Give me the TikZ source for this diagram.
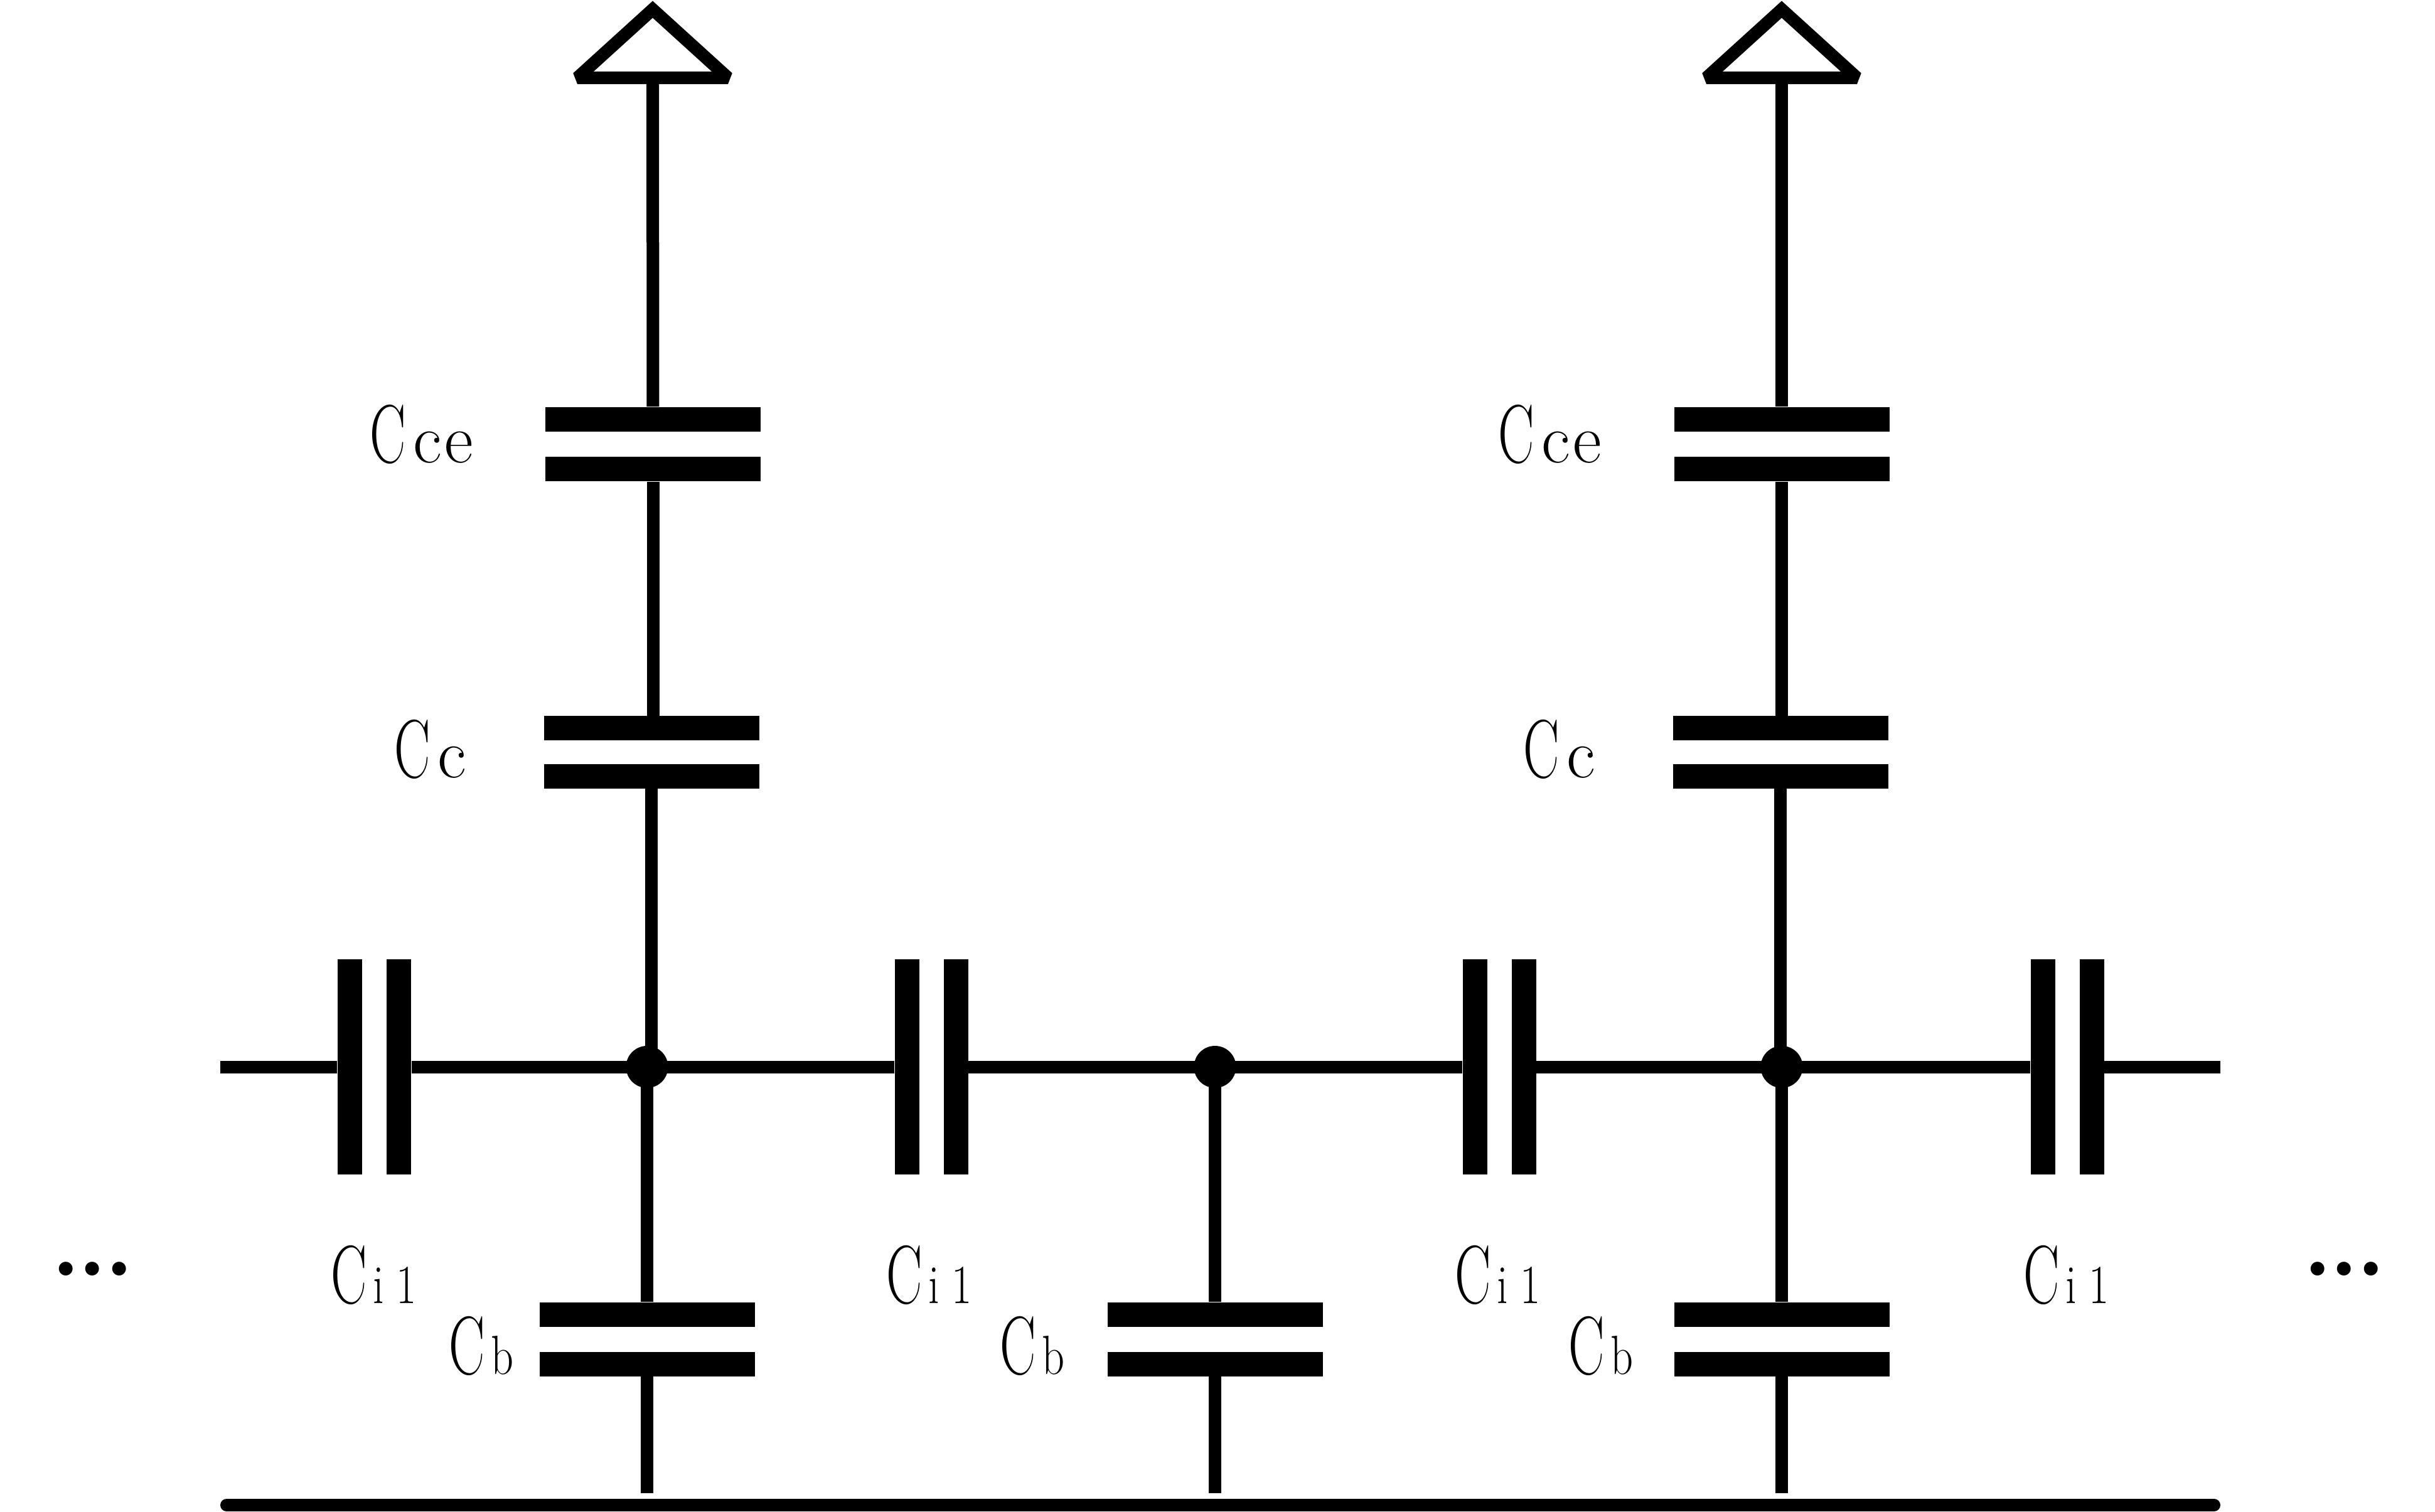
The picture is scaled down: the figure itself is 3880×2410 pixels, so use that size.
\documentclass[tikz,border=0pt]{standalone}
\usepackage{graphicx}
\usepackage{tikz}
\tikzset{
plateh/.style={fill=black,inner sep=0pt,minimum width=85.75pt,minimum height=9.75pt},
platev/.style={fill=black,inner sep=0pt,minimum width=9.75pt,minimum height=85.75pt},
junc/.style={circle,fill=black,inner sep=0pt,minimum size=16.75pt},
wire/.style={line width=5pt},
gnd/.style={line width=5pt,miter limit=2,fill=white},
capl/.style={anchor=base west,inner sep=0pt,outer sep=0pt}
}
\newcommand{\capC}{\scalebox{.65}[1]{\fontsize{33}{33}\selectfont C}}
\newcommand{\capbig}[1]{\capC\hspace{3pt}{\fontsize{28}{28}\selectfont #1}}
\newcommand{\capsmall}[1]{\capC\hspace{2.5pt}\scalebox{.8}[1]{\fontsize{22}{22}\selectfont #1}}
\begin{document}
\begin{tikzpicture}[x=0.25pt,y=-0.25pt]
\useasboundingbox (0,0) rectangle (3880,2410);
\draw[gnd] (1040,15) coordinate (gnd1t) -- (1160,124) coordinate (gnd1r) -- (920,124) coordinate (gnd1l) -- cycle;
\draw[gnd] (2839,15) coordinate (gnd2t) -- (2959,124) coordinate (gnd2r) -- (2719,124) coordinate (gnd2l) -- cycle;
\coordinate (gnd1b) at (1040,124);
\coordinate (gnd2b) at (2839,124);
\node[plateh] (cce1a) at (1040.5,668.5) {};
\node[plateh] (cce1b) at (1040.5,747.5) {};
\node[plateh] (cc1a) at (1038,1160) {};
\node[plateh] (cc1b) at (1038,1237) {};
\node[plateh] (cce2a) at (2839,668.5) {};
\node[plateh] (cce2b) at (2839,747.5) {};
\node[plateh] (cc2a) at (2837,1160) {};
\node[plateh] (cc2b) at (2837,1237) {};
\node[plateh] (cb1a) at (1031,2095.5) {};
\node[plateh] (cb1b) at (1031,2174) {};
\node[plateh] (cb2a) at (1936,2095.5) {};
\node[plateh] (cb2b) at (1936,2174) {};
\node[plateh] (cb3a) at (2839,2095.5) {};
\node[plateh] (cb3b) at (2839,2174) {};
\node[platev] (ci1a) at (557.5,1700.5) {};
\node[platev] (ci1b) at (635.5,1700.5) {};
\node[platev] (ci2a) at (1445,1700.5) {};
\node[platev] (ci2b) at (1523,1700.5) {};
\node[platev] (ci3a) at (2350,1700.5) {};
\node[platev] (ci3b) at (2428,1700.5) {};
\node[platev] (ci4a) at (3255,1700.5) {};
\node[platev] (ci4b) at (3333,1700.5) {};
\coordinate (wirel) at (351,1700.5);
\coordinate (wirer) at (3538,1700.5);
\coordinate (raill) at (361,2399);
\coordinate (railr) at (3528,2399);
\coordinate (foot1) at (1031,2380);
\coordinate (foot2) at (1936,2380);
\coordinate (foot3) at (2839,2380);
\node[junc] (j1) at (1031,1700.5) {};
\node[junc] (j2) at (1936,1700.5) {};
\node[junc] (j3) at (2839,1700.5) {};
\draw[wire] (gnd1b) -- (cce1a);
\draw[wire] (cce1b) -- (cc1a -| cce1b);
\draw[wire] (cc1b) -- (cc1b |- j1.center);
\draw[wire] (gnd2b) -- (cce2a);
\draw[wire] (cce2b) -- (cc2a -| cce2b);
\draw[wire] (cc2b) -- (cc2b |- j3.center);
\draw[wire] (j1.center) -- (cb1a);
\draw[wire] (j2.center) -- (cb2a);
\draw[wire] (j3.center) -- (cb3a);
\draw[wire] (cb1b) -- (foot1);
\draw[wire] (cb2b) -- (foot2);
\draw[wire] (cb3b) -- (foot3);
\draw[wire] (wirel) -- (ci1a);
\draw[wire] (ci1b) -- (j1.center);
\draw[wire] (j1.center) -- (ci2a);
\draw[wire] (ci2b) -- (j2.center);
\draw[wire] (j2.center) -- (ci3a);
\draw[wire] (ci3b) -- (j3.center);
\draw[wire] (j3.center) -- (ci4a);
\draw[wire] (ci4b) -- (wirer);
\draw[line width=5pt,line cap=round] (raill) -- (railr);
\node[capl] (lcce1) at (589,737) {\capbig{c\kern1.25pt e}};
\node[capl] (lcce2) at (2387,737) {\capbig{c\kern1.25pt e}};
\node[capl] (lcc1) at (628,1239) {\capbig{c}};
\node[capl] (lcc2) at (2427,1239) {\capbig{c}};
\node[capl] (lci1) at (527,2077) {\capsmall{i\kern6pt 1}};
\node[capl] (lci2) at (1412,2077) {\capsmall{i\kern6pt 1}};
\node[capl] (lci3) at (2318,2077) {\capsmall{i\kern6pt 1}};
\node[capl] (lci4) at (3224,2077) {\capsmall{i\kern6pt 1}};
\node[capl] (lcb1) at (715,2190) {\capsmall{b}};
\node[capl] (lcb2) at (1593,2190) {\capsmall{b}};
\node[capl] (lcb3) at (2499,2190) {\capsmall{b}};
\node[capl] (dotsl) at (81,2033) {\fontsize{38}{38}\selectfont\bfseries .\kern-1.2pt.\kern-1.2pt.};
\node[capl] (dotsr) at (3669,2033) {\fontsize{38}{38}\selectfont\bfseries .\kern-1.2pt.\kern-1.2pt.};
\end{tikzpicture}
\end{document}
